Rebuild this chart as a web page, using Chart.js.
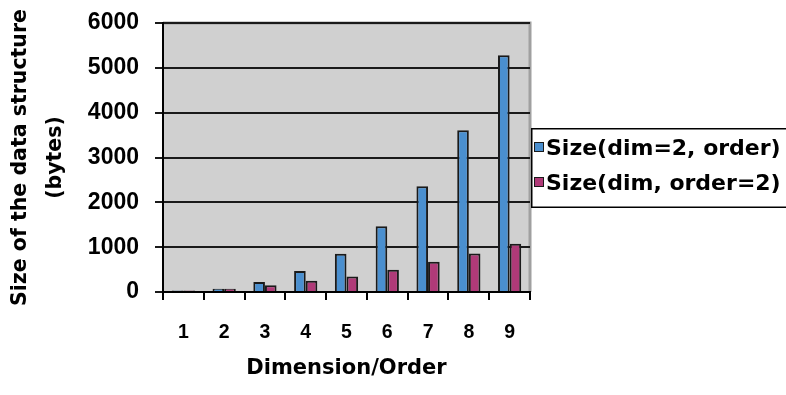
<!DOCTYPE html>
<html>
<head>
<meta charset="utf-8">
<script src="https://cdn.jsdelivr.net/npm/chart.js@4/dist/chart.umd.min.js"></script>
<style>
  html, body { margin: 0; padding: 0; background: #ffffff; }
  #wrap { width: 786px; height: 395px; position: relative; }
</style>
</head>
<body>
<div id="wrap"><canvas id="c" width="786" height="395"></canvas></div>
<script>
// Category labels along the x axis
const categories = ['1', '2', '3', '4', '5', '6', '7', '8', '9'];
// Structure size in bytes
const sizeDim2 = [36, 75, 222, 467, 855, 1467, 2360, 3608, 5280];
const sizeOrder2 = [36, 75, 150, 252, 345, 497, 677, 858, 1077];
const seriesNames = ['Size(dim=2, order)', 'Size(dim, order=2)'];
const yTicks = [0, 1000, 2000, 3000, 4000, 5000, 6000];

const SANS = 'Liberation Sans, Arial, sans-serif';
const WIDE = 'DejaVu Sans, sans-serif';
const colors = ['#4a8fcf', '#b03a78'];

// Gray plot background with the light frame on top and right
const plotBg = {
  id: 'plotBg',
  beforeDraw(chart) {
    const { ctx, chartArea: a } = chart;
    ctx.save();
    ctx.fillStyle = '#d0d0d0';
    ctx.fillRect(a.left, a.top, a.right - a.left, a.bottom - a.top);
    ctx.strokeStyle = '#a0a0a0';
    ctx.lineWidth = 3;
    ctx.beginPath();
    ctx.moveTo(a.left, a.top);
    ctx.lineTo(a.right, a.top);
    ctx.lineTo(a.right, a.bottom);
    ctx.stroke();
    ctx.restore();
  }
};

// Boxed legend to the right of the plot
const boxLegend = {
  id: 'boxLegend',
  afterDraw(chart) {
    const { ctx, chartArea: a } = chart;
    const x0 = a.right + 1, y0 = 128, w = 262, h = 80;
    ctx.save();
    ctx.fillStyle = '#ffffff';
    ctx.fillRect(x0, y0, w, h);
    ctx.strokeStyle = '#000000';
    ctx.lineWidth = 1.5;
    ctx.strokeRect(x0 + 0.75, y0 + 0.75, w - 1.5, h - 1.5);
    ctx.font = 'bold 22px ' + WIDE;
    ctx.textBaseline = 'middle';
    chart.data.datasets.forEach((ds, i) => {
      const cy = y0 + 19 + i * 35;
      ctx.fillStyle = ds.backgroundColor;
      ctx.fillRect(x0 + 3, cy - 5, 10, 10);
      ctx.strokeStyle = '#1a1a1a';
      ctx.lineWidth = 1;
      ctx.strokeRect(x0 + 3.5, cy - 4.5, 9, 9);
      ctx.fillStyle = '#000000';
      ctx.fillText(ds.label, x0 + 15, cy + 2);
    });
    ctx.restore();
  }
};

new Chart(document.getElementById('c'), {
  type: 'bar',
  data: {
    labels: categories,
    datasets: [
      { label: seriesNames[0], data: sizeDim2, backgroundColor: colors[0] },
      { label: seriesNames[1], data: sizeOrder2, backgroundColor: colors[1] }
    ]
  },
  options: {
    responsive: false,
    animation: false,
    devicePixelRatio: 1,
    layout: { padding: { top: 23, right: 256, left: 0, bottom: 0 } },
    datasets: {
      bar: {
        categoryPercentage: 0.57,
        barPercentage: 1.0,
        borderColor: '#1a1a1a',
        borderWidth: 2,
        borderSkipped: 'bottom'
      }
    },
    plugins: {
      legend: { display: false },
      tooltip: { enabled: false }
    },
    scales: {
      x: {
        offset: true,
        afterFit(scale) { scale.height = 103; },
        grid: {
          offset: true,
          drawOnChartArea: false,
          drawTicks: true,
          tickLength: 8,
          color: '#000000',
          lineWidth: 2
        },
        border: { display: true, color: '#000000', width: 2 },
        ticks: {
          color: '#000000',
          padding: 21,
          font: { family: SANS, size: 19.5, weight: 'bold' }
        },
        title: {
          display: true,
          text: 'Dimension/Order',
          color: '#000000',
          padding: { top: 10, bottom: 14 },
          font: { family: WIDE, size: 21, weight: 'bold' }
        }
      },
      y: {
        min: 0,
        max: 6000,
        afterFit(scale) {
          scale.width = 163;
          scale.paddingTop = 0;
          scale.paddingBottom = 0;
        },
        afterBuildTicks(scale) { scale.ticks = yTicks.map(v => ({ value: v })); },
        grid: {
          drawOnChartArea: true,
          drawTicks: true,
          tickLength: 8,
          color: '#1a1a1a',
          lineWidth: 2
        },
        border: { display: true, color: '#000000', width: 2 },
        ticks: {
          color: '#000000',
          padding: 16,
          callback: v => String(v),
          font: { family: SANS, size: 23, weight: 'bold' }
        },
        title: {
          display: true,
          text: ['Size of the data structure', '(bytes)'],
          color: '#000000',
          padding: { top: 3.5, bottom: 0 },
          font: { family: WIDE, size: 20.5, weight: 'bold', lineHeight: 1.707 }
        }
      }
    }
  },
  plugins: [plotBg, boxLegend]
});
</script>
</body>
</html>
